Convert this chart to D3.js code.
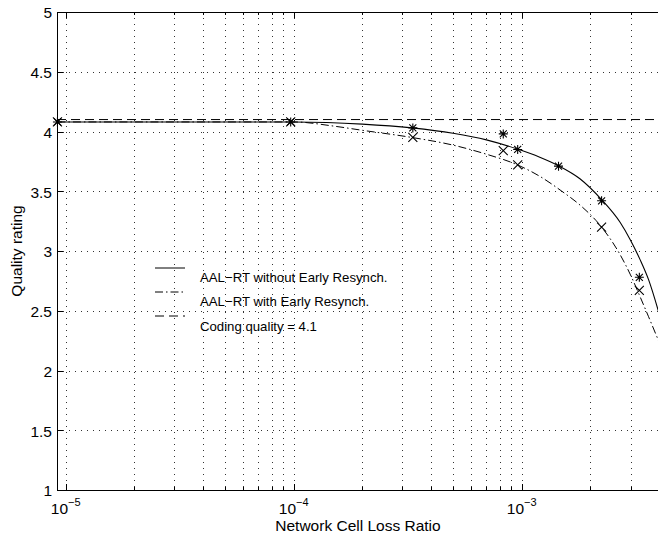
<!DOCTYPE html>
<html>
<head>
<meta charset="utf-8">
<script src="https://cdn.jsdelivr.net/npm/d3@7"></script>
<style>
  html, body { margin: 0; padding: 0; background: #fff; }
  svg { display: block; font-family: "Liberation Sans", Arial, Helvetica, sans-serif; }
</style>
</head>
<body>
<svg id="chart" width="658" height="537"></svg>
<script>
// Measured samples: AAL-RT without Early Resynch. (asterisks)
const withoutX = [9.2e-6, 9.7e-5, 3.33e-4, 8.3e-4, 9.6e-4, 1.45e-3, 2.24e-3, 3.28e-3];
const withoutY = [4.08, 4.08, 4.03, 3.98, 3.85, 3.71, 3.42, 2.78];

// Measured samples: AAL-RT with Early Resynch. (crosses)
const withX = [9.2e-6, 9.7e-5, 3.33e-4, 8.3e-4, 9.6e-4, 2.24e-3, 3.28e-3];
const withY = [4.08, 4.08, 3.95, 3.84, 3.72, 3.20, 2.67];

// Fitted curve, without Early Resynch. (solid)
const fitWithoutX = [9.2e-6, 2e-5, 5e-5, 1e-4, 2e-4, 3.3e-4, 5e-4, 7e-4, 9.5e-4, 1.2e-3, 1.45e-3, 1.8e-3, 2.24e-3, 2.7e-3, 3.0e-3, 3.3e-3, 3.6e-3, 4e-3];
const fitWithoutY = [4.08, 4.08, 4.08, 4.08, 4.062, 4.03, 3.985, 3.93, 3.855, 3.785, 3.714, 3.605, 3.43, 3.24, 3.09, 2.93, 2.76, 2.48];

// Fitted curve, with Early Resynch. (dash-dot)
const fitWithX = [9.2e-6, 2e-5, 5e-5, 1e-4, 1.5e-4, 2e-4, 3.3e-4, 5e-4, 7e-4, 9.6e-4, 1.2e-3, 1.5e-3, 1.8e-3, 2.24e-3, 2.7e-3, 3.0e-3, 3.3e-3, 3.6e-3, 4e-3];
const fitWithY = [4.08, 4.08, 4.08, 4.08, 4.045, 4.01, 3.95, 3.886, 3.81, 3.72, 3.625, 3.50, 3.385, 3.20, 2.97, 2.80, 2.62, 2.45, 2.24];

// Reference level
const codingQuality = 4.1;

// Axes
const yTicks = [1, 1.5, 2, 2.5, 3, 3.5, 4, 4.5, 5];
const yTickLabels = ["1", "1.5", "2", "2.5", "3", "3.5", "4", "4.5", "5"];
const xMajorTicks = [1e-5, 1e-4, 1e-3];
const xMajorExponents = ["−5", "−4", "−3"];
const xMinorTicks = [2e-5, 3e-5, 4e-5, 5e-5, 6e-5, 7e-5, 8e-5, 9e-5,
                     2e-4, 3e-4, 4e-4, 5e-4, 6e-4, 7e-4, 8e-4, 9e-4,
                     2e-3, 3e-3];

const legendLabels = ["AAL−RT without Early Resynch.", "AAL−RT with Early Resynch.", "Coding quality = 4.1"];
const xTitle = "Network Cell Loss Ratio";
const yTitle = "Quality rating";

const svg = d3.select("#chart");
const L = 57, R = 659, T = 12, B = 490;

const x = d3.scaleLog().domain([9.16e-6, 4.0e-3]).range([L, R]);
const y = d3.scaleLinear().domain([1, 5]).range([B, T]);

svg.append("rect").attr("width", 658).attr("height", 537).attr("fill", "#fff");

svg.append("defs").append("clipPath").attr("id", "plot-clip")
  .append("rect").attr("x", L).attr("y", T).attr("width", R - L).attr("height", B - T);

const crisp = v => Math.round(v) + 0.5;

// Grid
const grid = svg.append("g").attr("stroke", "#333").attr("stroke-width", 1)
  .attr("stroke-dasharray", "1,5").attr("shape-rendering", "crispEdges");
grid.selectAll("line.h").data(yTicks.filter(v => v > 1 && v < 5)).join("line")
  .attr("x1", L).attr("x2", R).attr("y1", d => crisp(y(d))).attr("y2", d => crisp(y(d)));
grid.selectAll("line.v").data(xMajorTicks.concat(xMinorTicks)).join("line")
  .attr("y1", T).attr("y2", B).attr("x1", d => crisp(x(d))).attr("x2", d => crisp(x(d)));

// Frame
const frame = svg.append("g").attr("stroke", "#000").attr("stroke-width", 1)
  .attr("fill", "none").attr("shape-rendering", "crispEdges");
frame.append("rect").attr("x", L + 0.5).attr("y", T + 0.5).attr("width", R - L).attr("height", B - T);

// Ticks (inward, bottom and top)
const tickG = svg.append("g").attr("stroke", "#000").attr("shape-rendering", "crispEdges");
yTicks.forEach(v => {
  tickG.append("line").attr("x1", L).attr("x2", L + 6).attr("y1", crisp(y(v))).attr("y2", crisp(y(v)));
});
xMajorTicks.forEach(v => {
  tickG.append("line").attr("x1", crisp(x(v))).attr("x2", crisp(x(v))).attr("y1", B).attr("y2", B - 6);
  tickG.append("line").attr("x1", crisp(x(v))).attr("x2", crisp(x(v))).attr("y1", T).attr("y2", T + 6);
});
xMinorTicks.forEach(v => {
  tickG.append("line").attr("x1", crisp(x(v))).attr("x2", crisp(x(v))).attr("y1", B).attr("y2", B - 3);
  tickG.append("line").attr("x1", crisp(x(v))).attr("x2", crisp(x(v))).attr("y1", T).attr("y2", T + 3);
});

// Tick labels
svg.append("g").selectAll("text").data(yTicks).join("text")
  .attr("x", 52).attr("y", d => y(d) + 6.3)
  .attr("text-anchor", "end").attr("font-size", 15.5).attr("fill", "#000")
  .text((d, i) => yTickLabels[i]);

const xl = svg.append("g").selectAll("text").data(xMajorTicks).join("text")
  .attr("x", d => x(d)).attr("y", 514)
  .attr("text-anchor", "middle").attr("font-size", 15.5).attr("fill", "#000");
xl.append("tspan").text("10");
xl.append("tspan").attr("dy", -8).attr("font-size", 11).text((d, i) => xMajorExponents[i]);

// Axis titles
svg.append("text").attr("x", (L + 657) / 2 + 1).attr("y", 531)
  .attr("text-anchor", "middle").attr("font-size", 15.5).attr("fill", "#000").text(xTitle);
svg.append("text").attr("transform", "translate(21.5," + ((T + B) / 2) + ") rotate(-90)")
  .attr("text-anchor", "middle").attr("font-size", 15.5).attr("fill", "#000").text(yTitle);

// Curves
const plot = svg.append("g").attr("clip-path", "url(#plot-clip)");
const lineGen = d3.line().x(d => x(d[0])).y(d => y(d[1])).curve(d3.curveMonotoneX);

plot.append("line").attr("x1", L).attr("x2", R)
  .attr("y1", y(codingQuality)).attr("y2", y(codingQuality))
  .attr("stroke", "#000").attr("stroke-width", 1).attr("stroke-dasharray", "9,5");

plot.append("path").datum(d3.zip(fitWithX, fitWithY)).attr("d", lineGen)
  .attr("fill", "none").attr("stroke", "#000").attr("stroke-width", 1)
  .attr("stroke-dasharray", "8,3,1.5,3");

plot.append("path").datum(d3.zip(fitWithoutX, fitWithoutY)).attr("d", lineGen)
  .attr("fill", "none").attr("stroke", "#000").attr("stroke-width", 1.1);

// Markers
const markers = svg.append("g").attr("stroke", "#000").attr("stroke-width", 1.1).attr("fill", "none");
const s = 4.5;
d3.zip(withX, withY).forEach(([a, b]) => {
  const cx = x(a), cy = y(b);
  markers.append("path").attr("d", `M${cx - s},${cy - s}L${cx + s},${cy + s}M${cx - s},${cy + s}L${cx + s},${cy - s}`);
});
d3.zip(withoutX, withoutY).forEach(([a, b]) => {
  const cx = x(a), cy = y(b);
  const d = s * 0.78;
  markers.append("path").attr("d",
    `M${cx - s},${cy}L${cx + s},${cy}M${cx},${cy - s}L${cx},${cy + s}` +
    `M${cx - d},${cy - d}L${cx + d},${cy + d}M${cx - d},${cy + d}L${cx + d},${cy - d}`);
});

// Legend
const legendStyles = [
  { dash: null, lineY: 268, textY: 282 },
  { dash: "8,3,1.5,3", lineY: 292, textY: 306 },
  { dash: "9,5", lineY: 316, textY: 331 }
];
const lg = svg.append("g");
legendLabels.forEach((label, i) => {
  const st = legendStyles[i];
  lg.append("line").attr("x1", 155).attr("x2", 185).attr("y1", st.lineY).attr("y2", st.lineY)
    .attr("stroke", "#000").attr("stroke-width", 1).attr("stroke-dasharray", st.dash);
  lg.append("text").attr("x", 200).attr("y", st.textY).attr("font-size", 13.2).attr("fill", "#000").text(label);
});
</script>
</body>
</html>
